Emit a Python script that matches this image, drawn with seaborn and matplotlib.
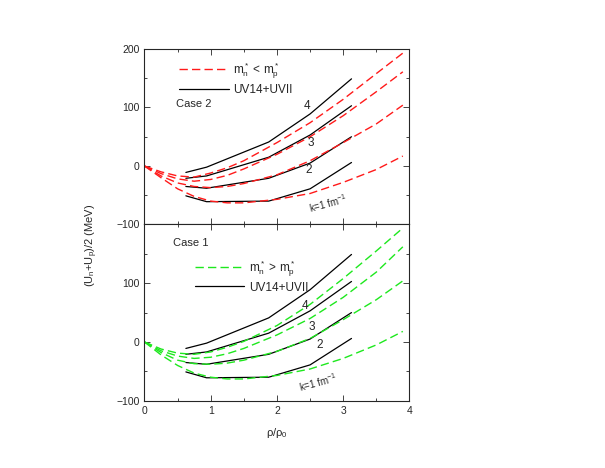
import numpy as np
import pandas as pd
import matplotlib
matplotlib.use("Agg")
import matplotlib.pyplot as plt
import seaborn as sns

# ---------------- data ----------------
x_dash = [0.0, 0.25, 0.5, 0.75, 1.0, 1.25, 1.5, 2.0, 2.5, 3.0, 3.5, 3.9]

# Case 2 (m_n* < m_p*), red dashed, k = 1..4 fm^-1
case2_k1 = [0, -20, -39, -52, -60, -63, -63, -57, -47, -28, -6, 17]
case2_k2 = [0, -17, -29, -35, -37, -35, -30, -15, 9, 40, 72, 104]
case2_k3 = [0, -13, -22, -26, -23, -16, -5, 20, 50, 86, 127, 161]
case2_k4 = [0, -10, -17, -19, -12, -3, 9, 40, 74, 114, 158, 193]

# Case 1 (m_n* > m_p*), green dashed, k = 1..4 fm^-1
case1_k1 = [0, -22, -40, -53, -60, -63, -63, -57, -46, -28, -5, 18]
case1_k2 = [0, -18, -31, -37, -38, -36, -31, -16, 6, 38, 72, 104]
case1_k3 = [0, -15, -24, -28, -26, -20, -11, 12, 40, 76, 119, 162]
case1_k4 = [0, -12, -19, -21, -17, -9, 1, 28, 64, 108, 155, 194]

# UV14+UVII (black solid), same in both panels
x_uv = [0.625, 0.9375, 1.875, 2.5, 3.125]
uv_k1 = [-51, -61, -60, -39, 6]
uv_k2 = [-35, -38, -21, 5, 50]
uv_k3 = [-21, -17, 15, 53, 103]
uv_k4 = [-11, -2, 41, 89, 149]

k_labels = ["1", "2", "3", "4"]
xticks = [0, 1, 2, 3, 4]
yticks = [-100, 0, 100, 200]

# ---------------- style ----------------
sns.set_style("ticks")
plt.rcParams["font.family"] = ["Liberation Sans", "DejaVu Sans"]
plt.rcParams["mathtext.default"] = "regular"
plt.rcParams["axes.linewidth"] = 0.8

RED = "#ff1a1a"
GREEN = "#1ee81e"
DASH = (0, (6, 3))

fig = plt.figure(figsize=(6.05, 4.68), dpi=100)
ax_top = fig.add_axes([0.2388, 0.5203, 0.4380, 0.3750])
ax_bot = fig.add_axes([0.2388, 0.1438, 0.4380, 0.3765])

uv_sets = [uv_k1, uv_k2, uv_k3, uv_k4]


def draw(ax, dash_sets, color, leg_label, legend_anchor):
    h_uv = None
    for ys in uv_sets:
        df = pd.DataFrame({"x": x_uv, "y": ys})
        sns.lineplot(data=df, x="x", y="y", ax=ax, color="black", lw=0.9,
                     estimator=None, sort=False, legend=False)
    h_uv = ax.lines[-1]
    for ys in dash_sets:
        df = pd.DataFrame({"x": x_dash, "y": ys})
        sns.lineplot(data=df, x="x", y="y", ax=ax, color=color, lw=1.0,
                     linestyle=DASH, estimator=None, sort=False, legend=False)
    h_d = ax.lines[-1]
    ax.legend([h_d, h_uv], [leg_label, "UV14+UVII"], loc="upper left",
              bbox_to_anchor=legend_anchor, frameon=False, fontsize=8.5,
              handlelength=4.2, handletextpad=0.4, labelspacing=0.25,
              borderpad=0, borderaxespad=0)
    ax.set_xlim(0, 4)
    ax.set_ylim(-100, 200)
    ax.set_xticks(xticks)
    ax.set_xticks(np.arange(0, 4.01, 0.5), minor=True)
    ax.set_yticks(np.arange(-100, 201, 50), minor=True)
    ax.tick_params(which="both", direction="in", top=True, right=True,
                   labelsize=7.5, width=0.6)
    ax.tick_params(which="major", length=4)
    ax.tick_params(which="minor", length=2.5)
    ax.set_xlabel("")
    ax.set_ylabel("")


draw(ax_top, [case2_k1, case2_k2, case2_k3, case2_k4], RED,
     "m$_n^*$ < m$_p^*$", (0.13, 0.935))
draw(ax_bot, [case1_k1, case1_k2, case1_k3, case1_k4], GREEN,
     "m$_n^*$ > m$_p^*$", (0.19, 0.81))

ax_top.set_yticks(yticks)
ax_top.set_xticklabels([])
ax_bot.set_yticks(yticks)
ax_bot.set_yticklabels(["\u2212100", "0", "100", ""])
ax_top.set_yticklabels(["\u2212100", "0", "100", "200"])
ax_bot.set_xticklabels([str(t) for t in xticks])

# annotations
ax_top.text(0.475, 106, "Case 2", fontsize=8, va="center", ha="left")
ax_bot.text(0.425, 168, "Case 1", fontsize=8, va="center", ha="left")

top_pos = [(2.77, -63), (2.48, -7), (2.51, 39), (2.45, 103)]
bot_pos = [(2.62, -68), (2.65, -5), (2.53, 25), (2.43, 61)]
for ax, pos in [(ax_top, top_pos), (ax_bot, bot_pos)]:
    for lab, (px, py) in zip(k_labels, pos):
        if lab == "1":
            ax.text(px, py, "k=1 fm$^{-1}$", fontsize=7, rotation=15,
                    ha="center", va="center")
        else:
            ax.text(px, py, lab, fontsize=8.5, ha="center", va="center")

fig.text(0.152, 0.475, "(U$_n$+U$_p$)/2 (MeV)", rotation=90, fontsize=8,
         ha="center", va="center")
fig.text(0.458, 0.075, "ρ/ρ$_0$", fontsize=8, ha="center", va="center")

fig.savefig("out.png", dpi=100)
